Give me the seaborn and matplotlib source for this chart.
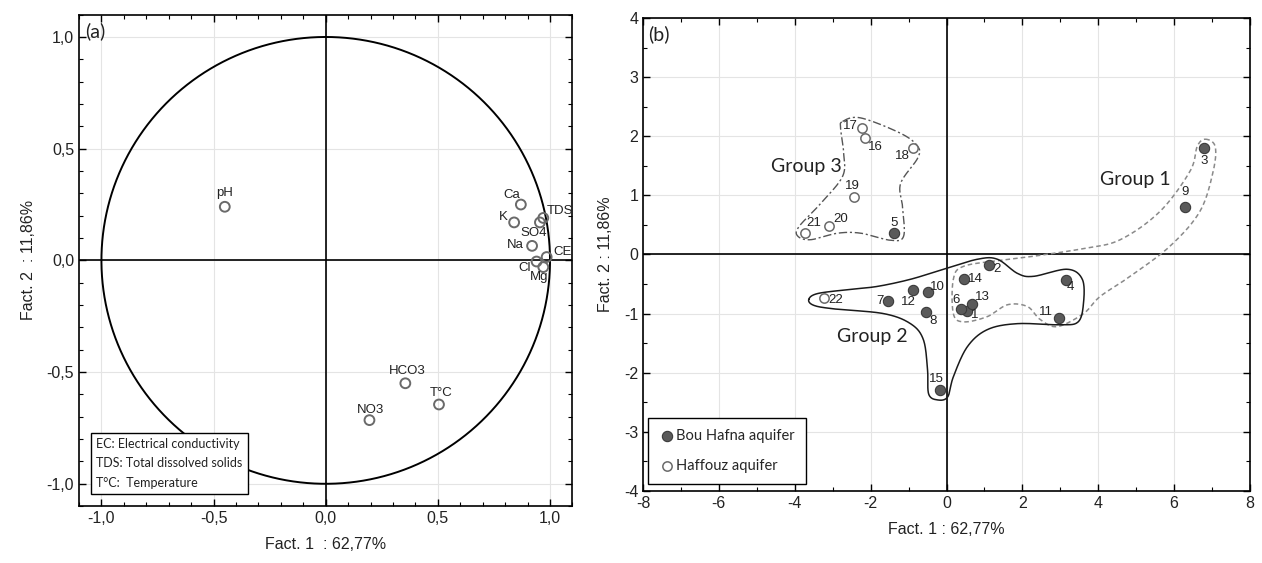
import numpy as np
import pandas as pd
import seaborn as sns
import matplotlib.pyplot as plt
import matplotlib.ticker as ticker

sns.set_style("ticks")
plt.rcParams['font.family'] = ['Liberation Sans', 'DejaVu Sans']
plt.rcParams['axes.unicode_minus'] = False

# (a) variable loadings
var_names = ['pH', 'Ca', 'K', 'TDS', 'SO4', 'Na', 'CE', 'Cl', 'Mg', 'HCO3', 'T°C', 'NO3']
var_f1 = [-0.45, 0.87, 0.84, 0.97, 0.955, 0.92, 0.985, 0.94, 0.97, 0.355, 0.505, 0.195]
var_f2 = [0.24, 0.25, 0.17, 0.19, 0.17, 0.065, 0.015, -0.005, -0.03, -0.55, -0.645, -0.715]

# (b) sample scores
samples = [str(i) for i in range(1, 23)]
sample_f1 = [0.55, 1.13, 6.79, 3.16, -1.39, 0.37, -1.53, -0.55, 6.29, -0.5, 2.97,
             -0.89, 0.66, 0.45, -0.18, -2.16, -2.24, -0.89, -2.45, -3.1, -3.74, -3.24]
sample_f2 = [-0.95, -0.17, 1.8, -0.44, 0.36, -0.92, -0.78, -0.97, 0.81, -0.63, -1.07,
             -0.6, -0.84, -0.41, -2.3, 1.97, 2.14, 1.8, 0.97, 0.49, 0.36, -0.74]
aquifer = ['Bou Hafna aquifer'] * 15 + ['Haffouz aquifer'] * 7

# group outlines (hand traced vertices)
group1_outline = [(6.82, 1.95), (7.08, 1.83), (7.03, 1.41), (6.68, 0.73), (5.89, 0.14), (4.84, -0.37),
                  (4.05, -0.71), (3.61, -1.0), (2.92, -1.22), (2.47, -1.1), (2.13, -0.88), (1.61, -0.85),
                  (1.08, -1.05), (0.45, -1.14), (0.18, -1.0), (0.18, -0.42), (0.45, -0.2), (1.42, -0.1),
                  (2.29, -0.03), (3.61, 0.1), (4.58, 0.25), (5.63, 0.73), (6.42, 1.41), (6.61, 1.83)]
group2_outline = [(-3.63, -0.76), (-3.39, -0.66), (-2.53, -0.59), (-1.82, -0.54), (-0.95, -0.42),
                  (-0.08, -0.25), (0.82, -0.08), (1.34, -0.08), (1.87, -0.32), (2.29, -0.37), (3.18, -0.25),
                  (3.58, -0.42), (3.61, -0.83), (3.47, -1.14), (3.0, -1.19), (1.87, -1.17), (1.08, -1.27),
                  (0.55, -1.56), (0.18, -2.07), (0.03, -2.41), (-0.24, -2.46), (-0.47, -2.36), (-0.5, -1.95),
                  (-0.61, -1.44), (-0.95, -1.17), (-1.66, -1.0), (-2.97, -0.92), (-3.5, -0.86)]
group3_outline = [(-2.74, 2.25), (-2.26, 2.31), (-1.21, 2.05), (-0.76, 1.83), (-0.76, 1.63), (-1.21, 1.2),
                  (-1.16, 0.81), (-1.13, 0.31), (-1.47, 0.24), (-2.26, 0.36), (-2.87, 0.36), (-3.58, 0.25),
                  (-3.92, 0.31), (-3.89, 0.47), (-3.32, 0.86), (-2.74, 1.32), (-2.71, 1.71), (-2.79, 2.12)]

# label offsets in pixels (dx, dy)
var_off = {'pH': (0, 14), 'Ca': (-9, 10), 'K': (-11, 5), 'TDS': (17, 7), 'SO4': (-6, -11),
           'Na': (-17, 1), 'CE': (16, 5), 'Cl': (-12, -6), 'Mg': (-4, -10), 'HCO3': (2, 12),
           'T°C': (2, 11), 'NO3': (1, 10)}
smp_off = {'1': (7, -4), '2': (8, -4), '3': (0, -13), '4': (4, -7), '5': (0, 10), '6': (-4, 9),
           '7': (-8, 0), '8': (7, -9), '9': (0, 15), '10': (10, 5), '11': (-13, 6), '12': (-4, -12),
           '13': (11, 7), '14': (12, 0), '15': (-3, 11), '16': (11, -9), '17': (-11, 2),
           '18': (-10, -8), '19': (-1, 11), '20': (12, 7), '21': (9, 10), '22': (12, -2)}


def smooth_closed(pts, n=24):
    P = np.asarray(pts, dtype=float)
    m = len(P)
    t = np.linspace(0, 1, n, endpoint=False)[:, None]
    out = []
    for i in range(m):
        p0, p1, p2, p3 = P[i - 1], P[i], P[(i + 1) % m], P[(i + 2) % m]
        out.append(0.5 * (2 * p1 + (-p0 + p2) * t + (2 * p0 - 5 * p1 + 4 * p2 - p3) * t ** 2
                          + (-p0 + 3 * p1 - 3 * p2 + p3) * t ** 3))
    out = np.vstack(out)
    return np.vstack([out, out[:1]])


def comma(v, pos):
    return ('%.1f' % v).replace('.', ',')


fig = plt.figure(figsize=(12.62, 5.63), dpi=100)
ax1 = fig.add_axes([0.0626, 0.101, 0.391, 0.873])
ax2 = fig.add_axes([0.5095, 0.128, 0.481, 0.840])

for ax in (ax1, ax2):
    ax.grid(True, color='#e4e4e4', lw=0.8, zorder=0)
    ax.set_axisbelow(True)
    for s in ax.spines.values():
        s.set_color('black')
        s.set_linewidth(1.2)
    ax.tick_params(which='both', direction='in', top=True, right=True, colors='black',
                   labelsize=11.5, labelcolor='#222222')
    ax.tick_params(which='major', length=5, width=1)
    ax.tick_params(which='minor', length=3, width=0.8)
    ax.axhline(0, color='black', lw=1.2, zorder=1)
    ax.axvline(0, color='black', lw=1.2, zorder=1)

# ---- (a)
df_var = pd.DataFrame({'f1': var_f1, 'f2': var_f2, 'name': var_names})
th = np.linspace(0, 2 * np.pi, 400)
ax1.plot(np.cos(th), np.sin(th), color='black', lw=1.4, zorder=2)
sns.scatterplot(data=df_var, x='f1', y='f2', ax=ax1, s=50, facecolor='none',
                edgecolor='#6a6a6a', linewidth=1.4, zorder=3, legend=False)
for _, r in df_var.iterrows():
    ax1.annotate(r['name'], (r['f1'], r['f2']), xytext=var_off[r['name']], textcoords='offset pixels',
                 ha='center', va='center', fontsize=9.5, color='#222222')
ax1.set_xlim(-1.1, 1.1)
ax1.set_ylim(-1.1, 1.1)
ax1.xaxis.set_major_locator(ticker.MultipleLocator(0.5))
ax1.xaxis.set_minor_locator(ticker.MultipleLocator(0.1))
ax1.yaxis.set_major_locator(ticker.MultipleLocator(0.5))
ax1.yaxis.set_minor_locator(ticker.MultipleLocator(0.1))
ax1.xaxis.set_major_formatter(ticker.FuncFormatter(comma))
ax1.yaxis.set_major_formatter(ticker.FuncFormatter(comma))
ax1.set_xlabel('Fact. 1  : 62,77%', fontsize=11.5, color='#222222', labelpad=8)
ax1.set_ylabel('Fact. 2  : 11,86%', fontsize=11.5, color='#222222', labelpad=8)
ax1.text(0.012, 0.985, '(a)', transform=ax1.transAxes, ha='left', va='top', fontsize=14,
         family=['Lato', 'DejaVu Sans'], color='#222222')
ax1.text(0.035, 0.035, 'EC: Electrical conductivity\nTDS: Total dissolved solids\nT°C:  Temperature',
         transform=ax1.transAxes, ha='left', va='bottom', fontsize=9, linespacing=1.75,
         family=['Lato', 'DejaVu Sans'], color='#222222',
         bbox=dict(boxstyle='square,pad=0.4', facecolor='white', edgecolor='black', lw=1))

# ---- (b)
for pts, ls, col, lw in [(group1_outline, (0, (3, 2)), '#8a8a8a', 1.1),
                         (group2_outline, '-', '#1a1a1a', 1.1),
                         (group3_outline, (0, (6, 2, 1.5, 2)), '#555555', 1.0)]:
    c = smooth_closed(pts)
    ax2.plot(c[:, 0], c[:, 1], ls=ls, color=col, lw=lw, zorder=2)

df_s = pd.DataFrame({'f1': sample_f1, 'f2': sample_f2, 'id': samples, 'aquifer': aquifer})
sns.scatterplot(data=df_s[df_s.aquifer == 'Bou Hafna aquifer'], x='f1', y='f2', ax=ax2, s=55,
                color='#5a5a5a', edgecolor='#3a3a3a', linewidth=0.8, zorder=3, label='Bou Hafna aquifer')
sns.scatterplot(data=df_s[df_s.aquifer == 'Haffouz aquifer'], x='f1', y='f2', ax=ax2, s=45,
                color='white', edgecolor='#6a6a6a', linewidth=1.1, zorder=3, label='Haffouz aquifer')
for _, r in df_s.iterrows():
    ax2.annotate(r['id'], (r['f1'], r['f2']), xytext=smp_off[r['id']], textcoords='offset pixels',
                 ha='center', va='center', fontsize=9.5, color='#222222')

gfont = dict(fontsize=14, family=['Lato', 'DejaVu Sans'], color='#222222', ha='center', va='center')
ax2.text(-3.7, 1.49, 'Group 3', **gfont)
ax2.text(4.97, 1.27, 'Group 1', **gfont)
ax2.text(-1.95, -1.39, 'Group 2', **gfont)

ax2.set_xlim(-8, 8)
ax2.set_ylim(-4, 4)
ax2.xaxis.set_major_locator(ticker.MultipleLocator(2))
ax2.xaxis.set_minor_locator(ticker.MultipleLocator(1))
ax2.yaxis.set_major_locator(ticker.MultipleLocator(1))
ax2.yaxis.set_minor_locator(ticker.MultipleLocator(0.5))
ax2.set_xlabel('Fact. 1 : 62,77%', fontsize=11.5, color='#222222', labelpad=8)
ax2.set_ylabel('Fact. 2 : 11,86%', fontsize=11.5, color='#222222', labelpad=8)
ax2.text(0.008, 0.985, '(b)', transform=ax2.transAxes, ha='left', va='top', fontsize=14,
         family=['Lato', 'DejaVu Sans'], color='#222222')
leg = ax2.legend(loc='lower left', bbox_to_anchor=(0.004, 0.008), frameon=True, fancybox=False,
                 edgecolor='black', framealpha=1, handletextpad=0.05, borderpad=0.75, labelspacing=1.1,
                 borderaxespad=0.2, prop={'family': ['Lato', 'DejaVu Sans'], 'size': 10.5},
                 handlelength=1.1)
leg.get_frame().set_linewidth(1)

fig.savefig('out.png', dpi=100)
